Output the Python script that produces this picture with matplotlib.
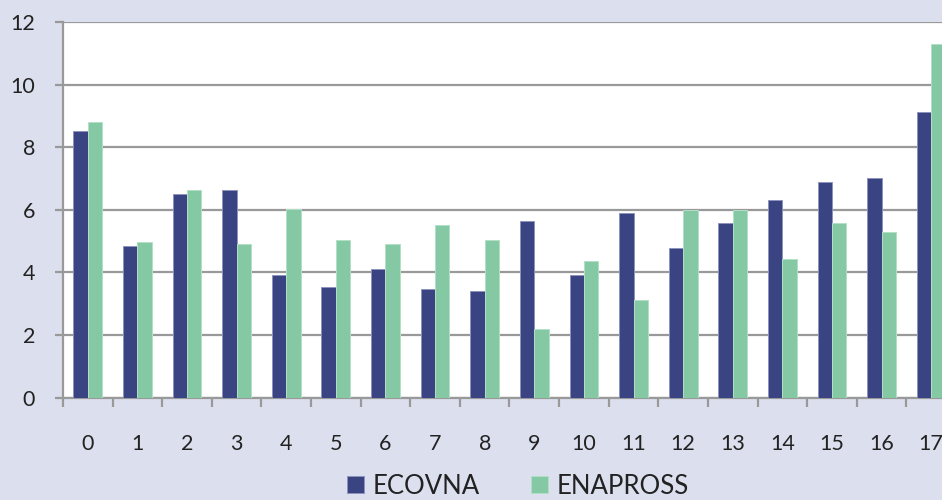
import matplotlib
matplotlib.use("Agg")
import matplotlib.pyplot as plt
import numpy as np

categories = [str(i) for i in range(18)]
ecovna = [8.52, 4.85, 6.50, 6.62, 3.92, 3.53, 4.12, 3.47, 3.40, 5.63, 3.90, 5.89, 4.78, 5.58, 6.30, 6.88, 7.01, 9.12]
enapross = [8.81, 4.97, 6.62, 4.90, 6.02, 5.04, 4.92, 5.50, 5.03, 2.19, 4.37, 3.12, 5.98, 6.00, 4.44, 5.58, 5.30, 11.30]
series_names = ["ECOVNA", "ENAPROSS"]
yticks = [0, 2, 4, 6, 8, 10, 12]

navy = "#3b4483"
green = "#84c9a3"
bg = "#dce0ee"
grid = "#999999"

plt.rcParams['font.family'] = ['Lato', 'DejaVu Sans']

fig = plt.figure(figsize=(9.42, 5.0), dpi=100, facecolor=bg)
ax = fig.add_axes([63/942, 102.5/500, 893/942, 375.5/500])
ax.set_facecolor("white")

x = np.arange(len(categories))
w = 0.29
ax.bar(x - w/2, ecovna, w, color=navy, edgecolor="#8d93bd", linewidth=0.7, label=series_names[0], zorder=3)
ax.bar(x + w/2, enapross, w, color=green, edgecolor="#b3dfc6", linewidth=0.7, label=series_names[1], zorder=3)

ax.set_xlim(-0.5, 17.5)
ax.set_ylim(0, 12)
ax.set_yticks(yticks)
ax.set_yticklabels([str(v) for v in yticks], fontsize=15.5, color="#222222")
ax.yaxis.grid(True, color=grid, linewidth=1.6, zorder=1)
ax.set_axisbelow(True)

ax.set_xticks(x)
ax.set_xticklabels(categories, fontsize=15.5, color="#222222")
ax.set_xticks(np.arange(-0.5, 18, 1), minor=True)
ax.tick_params(axis='x', which='major', length=0, pad=26)
ax.tick_params(axis='x', which='minor', length=6.5, width=1.6, color=grid, direction='out')
ax.tick_params(axis='y', which='major', length=6, width=1.6, color=grid, pad=14)

for s in ['top', 'right']:
    ax.spines[s].set_visible(False)
for s in ['left', 'bottom']:
    ax.spines[s].set_color(grid)
    ax.spines[s].set_linewidth(1.6)

leg = fig.legend(loc='center', bbox_to_anchor=(518/942, 1 - 486/500), ncol=2,
                 frameon=False, fontsize=18.5, handlelength=0.65, handleheight=0.65,
                 handletextpad=0.35, columnspacing=2.0, labelcolor="#222222",
                 borderpad=0.2)

fig.savefig("out.png", dpi=100, facecolor=bg)
